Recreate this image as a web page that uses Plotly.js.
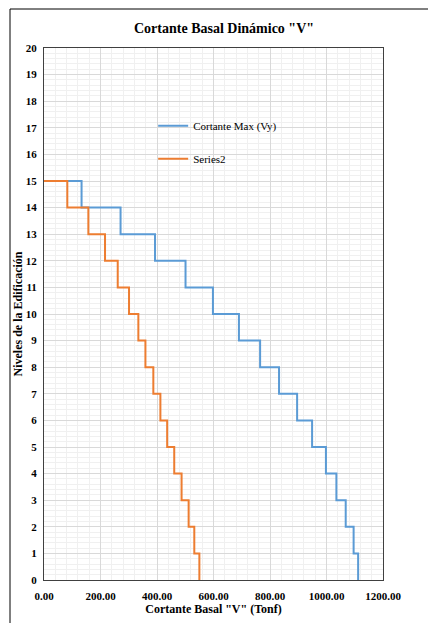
<!DOCTYPE html>
<html>
<head>
<meta charset="utf-8">
<script src="https://cdn.plot.ly/plotly-3.0.1.min.js"></script>
<style>html,body{margin:0;padding:0;background:#fff;}#chart{width:428px;height:623px;}</style>
</head>
<body>
<div id="chart"></div>
<script>
// Story levels (top of each story), from top to bottom
const levels = [15, 14, 13, 12, 11, 10, 9, 8, 7, 6, 5, 4, 3, 2, 1, 0];
// Story shear for stories 15..1 (Tonf)
const cortanteMaxVy = [133, 271, 393, 501, 598, 690, 765, 832, 896, 949, 998, 1035, 1068, 1096, 1112];
const series2 = [82.5, 157, 216, 261, 301, 334, 359, 387, 412, 436, 461, 487, 512, 532, 550];
const seriesNames = ["Cortante Max (Vy)", "Series2"];
const xTickVals = [0, 200, 400, 600, 800, 1000, 1200];

function stepX(vals) { return [0].concat(vals); }

const serif = "Liberation Serif";

const traces = [
  {x: stepX(cortanteMaxVy), y: levels, name: seriesNames[0], type: "scatter", mode: "lines",
   line: {shape: "hv", color: "#5b9bd5", width: 2}, legendgroup: "a"},
  {x: stepX(series2), y: levels, name: seriesNames[1], type: "scatter", mode: "lines",
   line: {shape: "hv", color: "#ed7d31", width: 2}, legendgroup: "b"}
];

const layout = {
  width: 428, height: 623,
  margin: {l: 44, r: 45, t: 48, b: 43},
  paper_bgcolor: "#ffffff", plot_bgcolor: "#ffffff",
  font: {family: serif, color: "#000", size: 11},
  title: {text: "<b>Cortante Basal Dinámico \"V\"</b>", font: {family: serif, size: 14, color: "#000"},
          x: 0.531, xref: "paper", xanchor: "center", y: 1 - 28/623, yref: "container", yanchor: "middle"},
  showlegend: true,
  legend: {x: 0.322, y: 0.881, xanchor: "left", yanchor: "top", bgcolor: "rgba(0,0,0,0)",
           font: {family: serif, size: 11, color: "#000"}, tracegroupgap: 14, traceorder: "grouped",
           itemwidth: 30},
  xaxis: {range: [0, 1200], tickvals: xTickVals, tickformat: ".2f", ticks: "",
          showgrid: true, gridcolor: "#d9d9d9", gridwidth: 1,
          minor: {dtick: 40, showgrid: true, gridcolor: "#f0f0f0", gridwidth: 1},
          showline: true, linecolor: "#404040", linewidth: 1, mirror: true, zeroline: false,
          tickfont: {family: serif, size: 11, color: "#000", weight: "bold"}, ticklabelstandoff: 6,
          title: {text: "<b>Cortante Basal \"V\" (Tonf)</b>", font: {family: serif, size: 12, color: "#000"}, standoff: 0}},
  yaxis: {range: [0, 20], dtick: 1, tick0: 0, ticks: "",
          showgrid: true, gridcolor: "#d9d9d9", gridwidth: 1,
          minor: {dtick: 0.2, showgrid: true, gridcolor: "#f0f0f0", gridwidth: 1},
          showline: true, linecolor: "#404040", linewidth: 1, mirror: true, zeroline: false,
          tickfont: {family: serif, size: 11, color: "#000", weight: "bold"}, ticklabelstandoff: 4,
          title: {text: "<b>Niveles de la Edificación</b>", font: {family: serif, size: 12, color: "#000"}, standoff: 0}},
  shapes: [
    {type: "line", xref: "paper", yref: "paper", x0: -34/339, x1: 1.2, y0: 571/532, y1: 571/532,
     line: {color: "#000", width: 1}},
    {type: "line", xref: "paper", yref: "paper", x0: -34/339, x1: -34/339, y0: 571/532, y1: -0.1,
     line: {color: "#000", width: 1}}
  ]
};

Plotly.newPlot("chart", traces, layout, {displayModeBar: false, staticPlot: true});
</script>
</body>
</html>
